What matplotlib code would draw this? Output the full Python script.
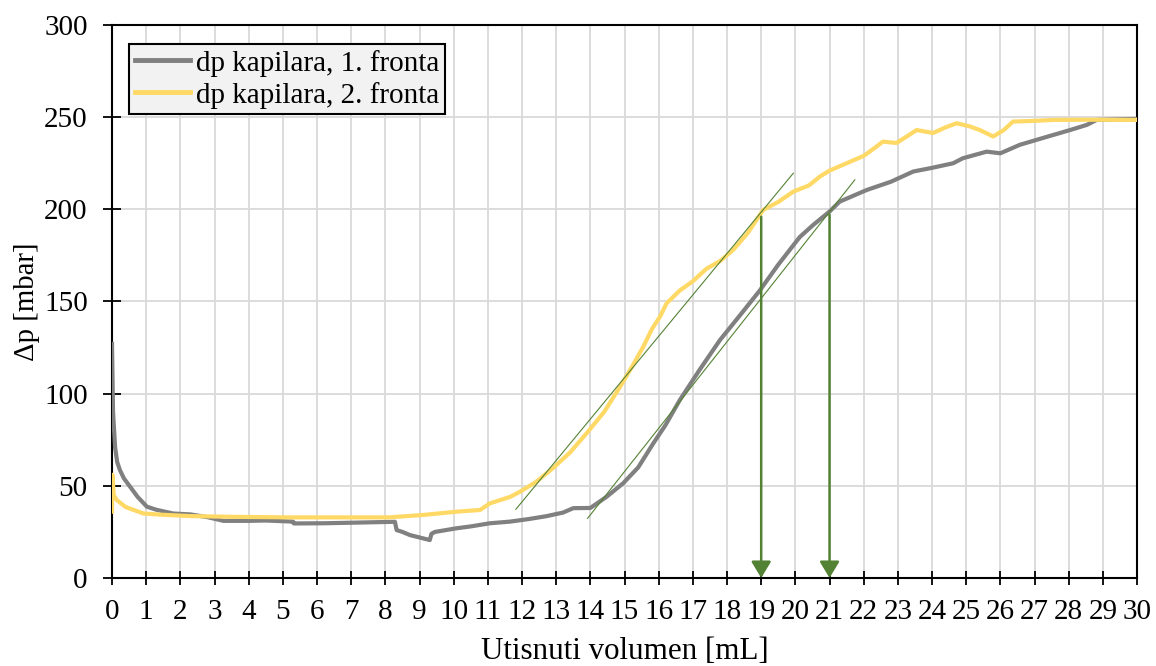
import matplotlib
matplotlib.use("Agg")
import matplotlib.pyplot as plt

# ---- data ----
x_front1 = [0.0, 0.03, 0.09, 0.15, 0.23, 0.35, 0.53, 0.75, 1.02, 1.3, 1.79, 2.3, 2.8, 3.26, 4.0, 4.5,
            5.3, 5.32, 6.2, 7.0, 8.28, 8.33, 8.5, 8.72, 9.0, 9.3, 9.35, 9.45, 10.09, 10.5, 11.06,
            11.65, 12.2, 12.7, 13.2, 13.5, 14.0, 14.47, 14.96, 15.4, 15.84, 16.2, 16.62, 17.2,
            17.79, 18.4, 18.96, 19.5, 20.13, 20.52, 21.0, 21.3, 22.09, 22.8, 23.45, 24.0, 24.62,
            24.9, 25.6, 26.0, 26.57, 27.3, 28.04, 28.53, 28.82, 29.4, 30.0]
y_front1 = [127, 90, 71, 63, 58.6, 54, 49.5, 44, 38.7, 37, 35, 34.5, 33, 31, 31, 31.2,
            30.6, 29.6, 29.7, 30, 30.5, 26, 25, 23.3, 22, 20.6, 24, 25, 27, 28, 29.7,
            30.6, 32, 33.5, 35.5, 37.9, 38, 44, 51.4, 60, 73, 83, 96.6, 113,
            129, 143, 156, 170, 185, 191.5, 198.8, 204.2, 210.5, 215, 220.5, 222.5, 225,
            227.7, 231.3, 230.4, 235, 239, 243, 245.8, 248.5, 248.8, 249]

x_front2 = [0.0, 0.01, 0.05, 0.14, 0.4, 0.92, 1.5, 2.28, 3.5, 5.2, 6.5, 8.1, 9.1, 10.09, 10.77,
            11.06, 11.65, 11.94, 12.4, 12.91, 13.4, 13.89, 14.4, 14.87, 15.2, 15.55, 15.8, 16.04,
            16.23, 16.62, 17.0, 17.4, 17.8, 18.18, 18.6, 19.06, 19.5, 19.94, 20.4, 20.72, 21.0,
            21.5, 22.0, 22.3, 22.56, 22.96, 23.3, 23.55, 24.03, 24.4, 24.72, 25.1, 25.4, 25.79,
            26.1, 26.37, 27.0, 27.55, 28.5, 30.0]
y_front2 = [36, 56, 45, 42.3, 38.5, 35, 34.3, 33.6, 33.2, 32.9, 32.9, 32.9, 34.2, 36, 36.9,
            40.5, 44, 46.8, 52, 59.7, 68, 78.5, 90, 103.8, 114, 125.5, 135, 141.8,
            149, 156, 161, 167.8, 172, 178, 187, 199.7, 204, 209.6, 213, 217.8, 221,
            225, 229, 233, 236.7, 236, 240, 243, 241.4, 244.5, 246.7, 245, 243, 239.5,
            243, 247.6, 248, 248.5, 248.6, 248.5]

tangent2_x = [11.82, 19.94]
tangent2_y = [37.3, 219.6]
tangent1_x = [13.92, 21.74]
tangent1_y = [32.4, 216.0]

arrow_x = [19, 21]
arrow_top = [196, 197]

labels = ["dp kapilara, 1. fronta", "dp kapilara, 2. fronta"]
x_ticks = list(range(0, 31))
y_ticks = [0, 50, 100, 150, 200, 250, 300]

# ---- style ----
plt.rcParams['font.family'] = ['Liberation Serif', 'DejaVu Serif']
FS = 21
GREEN = '#548235'

fig = plt.figure(figsize=(11.56, 6.66), dpi=100)
ax = fig.add_axes([0.0969, 0.1321, 0.8867, 0.8304])

ax.set_xlim(0, 30)
ax.set_ylim(0, 300)
ax.set_xticks(x_ticks)
ax.set_yticks(y_ticks)
ax.grid(True, color='#d9d9d9', linewidth=1.3, zorder=0)
ax.set_axisbelow(True)

for s in ax.spines.values():
    s.set_linewidth(1.5)
    s.set_color('black')

ax.tick_params(axis='x', direction='inout', length=9.5, width=1.3, labelsize=FS, pad=10)
ax.tick_params(axis='y', direction='inout', length=13, width=1.3, labelsize=FS, pad=11)

ax.plot(x_front1, y_front1, color='#808080', lw=3, label=labels[0], zorder=3,
        solid_joinstyle='round')
ax.plot(x_front2, y_front2, color='#ffd966', lw=3, label=labels[1], zorder=3,
        solid_joinstyle='round')

ax.plot(tangent2_x, tangent2_y, color=GREEN, lw=0.8, zorder=4)
ax.plot(tangent1_x, tangent1_y, color=GREEN, lw=0.8, zorder=4)

for xa, ya in zip(arrow_x, arrow_top):
    ax.annotate('', xy=(xa, 0), xytext=(xa, ya),
                arrowprops=dict(arrowstyle='-|>,head_length=0.5,head_width=0.3',
                                color=GREEN, lw=1.8, mutation_scale=20,
                                shrinkA=0, shrinkB=0), zorder=5)

ax.set_xlabel('Utisnuti volumen [mL]', fontsize=22.3, labelpad=9)
ax.set_ylabel('Δp [mbar]', fontsize=20.7, labelpad=2.5)

leg = ax.legend(loc='upper left', bbox_to_anchor=(0.0166, 0.966), borderaxespad=0,
                fontsize=FS, frameon=True, fancybox=False, handlelength=1.9,
                handletextpad=0.2, borderpad=0.2, labelspacing=0.17, framealpha=1)
leg.get_frame().set_facecolor('#f2f2f2')
leg.get_frame().set_edgecolor('black')
leg.get_frame().set_linewidth(1.5)
for line in leg.get_lines():
    line.set_linewidth(3.5)

fig.savefig('out.png', dpi=100)
